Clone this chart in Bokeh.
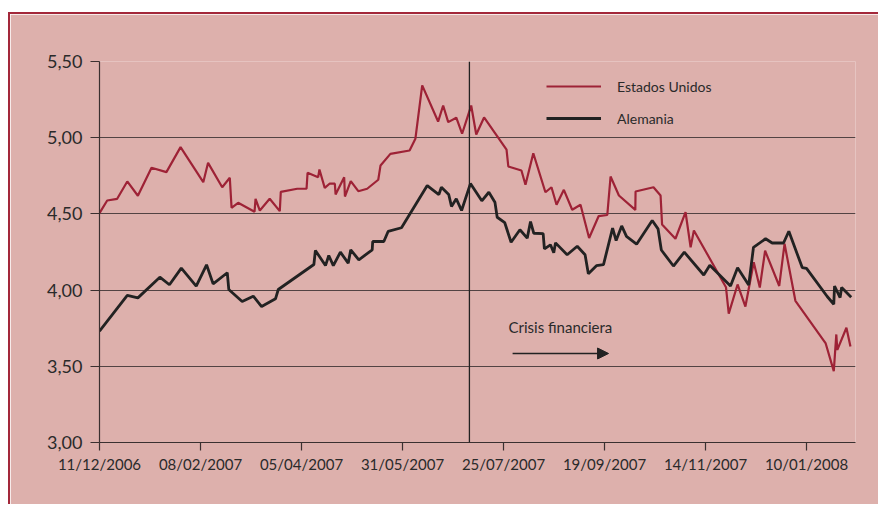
from bokeh.plotting import figure
from bokeh.models import (Range1d, FixedTicker, Span, Arrow, NormalHead, Label,
                          Legend, LegendItem)
from bokeh.embed import file_html
from bokeh.resources import INLINE

# ---- data (x = trading-day index from 11/12/2006) ----
tick_labels = ["11/12/2006", "08/02/2007", "05/04/2007", "31/05/2007",
               "25/07/2007", "19/09/2007", "14/11/2007", "10/01/2008"]
tick_step = 40
y_ticks = [3.0, 3.5, 4.0, 4.5, 5.0, 5.5]

us_x = [0, 3.05, 7.0, 11.0, 15.2, 20.6, 26.5, 32.1, 41.1, 43.0, 48.6, 51.6, 52.3, 54.9,
        61.4, 61.8, 63.5, 67.4, 71.4, 71.8, 78.3, 82.0, 82.4, 86.6, 87.1, 89.2, 91.1, 93.2,
        93.5, 96.9, 97.2, 99.5, 102.5, 106.0, 110.4, 111.3, 115.2, 122.8, 125.1, 127.8,
        134.1, 136.1, 138.1, 141.3, 143.6, 147.2, 149.2, 152.3, 161.2, 161.9, 167.1, 168.7,
        171.8, 176.6, 179.0, 181.0, 183.9, 187.2, 190.5, 193.9, 197.7, 201.1, 202.4, 205.7,
        212.2, 212.3, 219.4, 222.2, 222.8, 228.1, 232.1, 234.1, 235.4, 248.1, 249.2, 252.7,
        255.8, 259.1, 261.5, 263.6, 269.2, 271.3, 275.6, 287.6, 290.8, 291.8, 292.2, 295.8,
        297.4]
us_y = [4.505, 4.588, 4.599, 4.713, 4.619, 4.803, 4.774, 4.938, 4.708, 4.835, 4.675, 4.737,
        4.540, 4.573, 4.514, 4.599, 4.522, 4.599, 4.518, 4.645, 4.665, 4.665, 4.770, 4.741,
        4.791, 4.671, 4.698, 4.698, 4.627, 4.741, 4.614, 4.715, 4.649, 4.665, 4.724, 4.818,
        4.894, 4.916, 4.993, 5.343, 5.106, 5.211, 5.102, 5.131, 5.026, 5.211, 5.021, 5.133,
        4.921, 4.811, 4.785, 4.691, 4.898, 4.642, 4.675, 4.560, 4.658, 4.527, 4.560, 4.342,
        4.486, 4.493, 4.745, 4.621, 4.526, 4.647, 4.675, 4.621, 4.430, 4.337, 4.511, 4.281,
        4.391, 4.019, 3.846, 4.037, 3.892, 4.183, 4.017, 4.258, 4.027, 4.304, 3.930, 3.650,
        3.468, 3.709, 3.608, 3.753, 3.630]

de_x = [0, 11.0, 15.2, 23.9, 27.7, 32.4, 38.3, 42.4, 45.0, 50.6, 51.2, 56.5, 60.9, 64.2,
        69.7, 70.8, 84.9, 85.5, 89.5, 90.8, 92.6, 95.4, 98.5, 99.5, 102.7, 108.0, 108.2,
        112.6, 114.3, 119.6, 129.8, 134.4, 135.4, 138.3, 139.4, 141.3, 143.4, 146.9, 151.4,
        154.2, 156.6, 157.5, 160.5, 163.0, 166.5, 169.4, 170.7, 172.0, 175.7, 176.2, 178.6,
        179.9, 180.6, 185.2, 189.2, 192.3, 193.6, 196.8, 199.6, 203.2, 204.6, 206.8, 208.7,
        212.7, 218.9, 221.2, 222.5, 227.3, 231.6, 239.3, 241.7, 249.9, 252.7, 257.1, 259.0,
        263.8, 266.4, 270.9, 273.0, 278.3, 280.0, 288.2, 290.8, 291.1, 293.3, 293.9, 297.7]
de_y = [3.73, 3.965, 3.949, 4.085, 4.035, 4.144, 4.026, 4.166, 4.041, 4.114, 4.004, 3.925,
        3.960, 3.892, 3.943, 4.004, 4.168, 4.260, 4.161, 4.227, 4.161, 4.249, 4.177, 4.264,
        4.199, 4.264, 4.319, 4.319, 4.385, 4.409, 4.686, 4.627, 4.675, 4.627, 4.549, 4.599,
        4.522, 4.699, 4.586, 4.642, 4.577, 4.478, 4.442, 4.314, 4.396, 4.341, 4.450, 4.373,
        4.370, 4.271, 4.297, 4.245, 4.310, 4.232, 4.288, 4.232, 4.107, 4.160, 4.167, 4.407,
        4.325, 4.421, 4.352, 4.301, 4.457, 4.402, 4.263, 4.158, 4.249, 4.099, 4.163, 4.027,
        4.146, 4.033, 4.281, 4.337, 4.309, 4.309, 4.386, 4.148, 4.143, 3.958, 3.907, 4.027,
        3.951, 4.017, 3.953]

series_names = ["Estados Unidos", "Alemania"]
crisis_label = "Crisis financiera"
crisis_start = 146.5

# ---- style ----
BG = "#DDB0AC"
RED = "#9E2236"
BLACK = "#222222"
INK = "#2a2a2a"
FONT = "Lato"

p = figure(width=870, height=492, output_backend="svg", toolbar_location=None,
           x_range=Range1d(0, 299.4), y_range=Range1d(3.0, 5.5),
           min_border_left=89, min_border_right=25, min_border_top=47, min_border_bottom=64)
p.styles = {"margin-left": "8px", "margin-top": "12px",
            "border-left": "2px solid #A3283A", "border-top": "2px solid #A3283A"}
p.background_fill_color = BG
p.border_fill_color = BG
p.outline_line_color = None

# axes
p.xaxis.ticker = FixedTicker(ticks=[i * tick_step for i in range(len(tick_labels))])
p.xaxis.major_label_overrides = {i * tick_step: t for i, t in enumerate(tick_labels)}
p.yaxis.ticker = FixedTicker(ticks=y_ticks)
p.yaxis.major_label_overrides = {v: f"{v:.2f}".replace(".", ",") for v in y_ticks}
for ax in (p.xaxis, p.yaxis):
    ax.axis_line_color = "#3a3030"
    ax.axis_line_width = 1.2
    ax.major_tick_line_color = "#3a3030"
    ax.major_tick_line_width = 1.2
    ax.major_tick_in = 0
    ax.minor_tick_line_color = None
    ax.major_label_text_font = FONT
    ax.major_label_text_color = INK
p.xaxis.major_tick_out = 8
p.yaxis.major_tick_out = 9
p.xaxis.major_label_text_font_size = "15px"
p.yaxis.major_label_text_font_size = "18px"
p.xaxis.major_label_standoff = 4
p.yaxis.major_label_standoff = 8

p.xgrid.grid_line_color = None
p.ygrid.grid_line_color = "#3a3030"
p.ygrid.grid_line_alpha = 0.85
p.ygrid.grid_line_width = 1.2

# crisis vertical line
p.add_layout(Span(location=crisis_start, dimension="height", line_color=BLACK, line_width=1.3))

r_us = p.line(us_x, us_y, line_color=RED, line_width=2.2)
r_de = p.line(de_x, de_y, line_color=BLACK, line_width=2.8)

legend = Legend(items=[LegendItem(label=series_names[0], renderers=[r_us]),
                       LegendItem(label=series_names[1], renderers=[r_de])],
                location=(447, 314), orientation="vertical",
                background_fill_alpha=0, border_line_color=None,
                glyph_width=55, glyph_height=20, label_height=20, label_standoff=16,
                spacing=12, padding=0, margin=0,
                label_text_font=FONT, label_text_font_size="14px", label_text_color=INK)
p.add_layout(legend)

# annotation
p.add_layout(Label(x=162, y=3.755, text=crisis_label, text_font=FONT,
                   text_font_size="15px", text_color=INK, text_baseline="middle"))
p.add_layout(Arrow(x_start=163.6, y_start=3.584, x_end=201.6, y_end=3.584,
                   line_color=BLACK, line_width=1.5,
                   end=NormalHead(size=11, fill_color=BLACK, line_color=BLACK)))

open("out.html", "w").write(file_html(p, INLINE))
